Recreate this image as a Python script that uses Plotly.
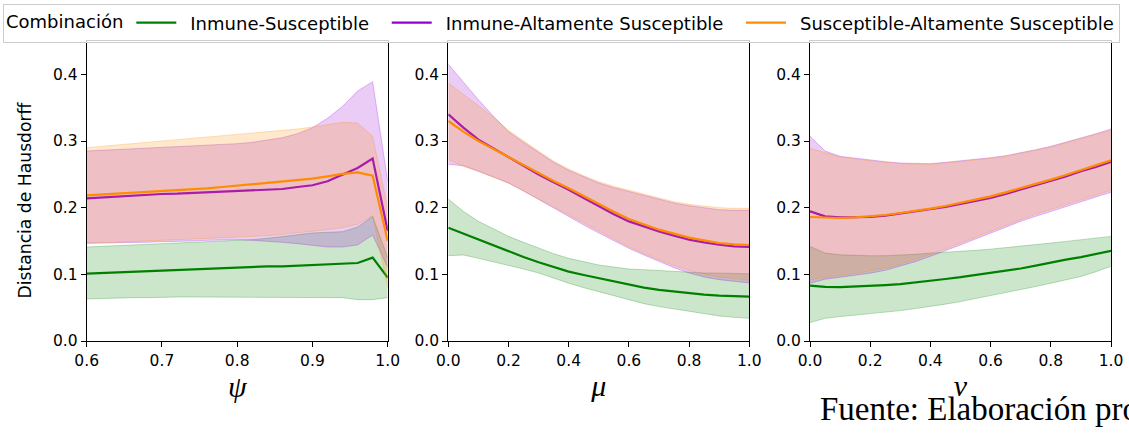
import plotly.graph_objects as go

W, H = 1129, 434

# ---------------- data ----------------
psi = [0.60, 0.62, 0.64, 0.66, 0.68, 0.70, 0.72, 0.74, 0.76, 0.78, 0.80,
       0.82, 0.84, 0.86, 0.88, 0.90, 0.92, 0.94, 0.96, 0.98, 1.00]
grid01 = [0.00, 0.05, 0.10, 0.15, 0.20, 0.25, 0.30, 0.35, 0.40, 0.45, 0.50,
          0.55, 0.60, 0.65, 0.70, 0.75, 0.80, 0.85, 0.90, 0.95, 1.00]

# Panel psi
psi_is_mean = [0.101, 0.102, 0.103, 0.103, 0.104, 0.105, 0.106, 0.107, 0.108, 0.109, 0.110,
               0.111, 0.112, 0.112, 0.113, 0.114, 0.114, 0.115, 0.117, 0.125, 0.095]
psi_is_up = [0.141, 0.142, 0.143, 0.144, 0.145, 0.146, 0.147, 0.148, 0.149, 0.150, 0.150,
             0.152, 0.154, 0.157, 0.160, 0.162, 0.163, 0.164, 0.171, 0.187, 0.125]
psi_is_lo = [0.063, 0.064, 0.064, 0.065, 0.065, 0.066, 0.066, 0.066, 0.066, 0.066, 0.066,
             0.066, 0.066, 0.066, 0.066, 0.066, 0.066, 0.065, 0.062, 0.062, 0.065]
psi_ia_mean = [0.214, 0.2155, 0.217, 0.218, 0.219, 0.2205, 0.221, 0.222, 0.2225, 0.2235, 0.2245,
               0.2255, 0.2265, 0.228, 0.231, 0.2336, 0.2396, 0.2496, 0.2596, 0.2737, 0.165]
psi_ia_up = [0.285, 0.286, 0.287, 0.288, 0.289, 0.290, 0.291, 0.292, 0.293, 0.294, 0.296,
             0.298, 0.301, 0.305, 0.311, 0.320, 0.334, 0.352, 0.375, 0.389, 0.240]
psi_ia_lo = [0.147, 0.147, 0.148, 0.148, 0.148, 0.149, 0.149, 0.150, 0.151, 0.152, 0.152,
             0.151, 0.150, 0.148, 0.146, 0.143, 0.141, 0.141, 0.144, 0.159, 0.110]
psi_sa_mean = [0.2185, 0.2197, 0.221, 0.2222, 0.2234, 0.2246, 0.2258, 0.2275, 0.229, 0.231, 0.233,
               0.235, 0.237, 0.239, 0.2415, 0.2436, 0.247, 0.2506, 0.253, 0.248, 0.150]
psi_sa_up = [0.290, 0.292, 0.294, 0.296, 0.298, 0.300, 0.302, 0.304, 0.306, 0.308, 0.310,
             0.312, 0.313, 0.315, 0.318, 0.321, 0.325, 0.328, 0.327, 0.307, 0.200]
psi_sa_lo = [0.146, 0.147, 0.148, 0.149, 0.150, 0.150, 0.151, 0.152, 0.153, 0.154, 0.155,
             0.157, 0.158, 0.160, 0.162, 0.165, 0.167, 0.170, 0.175, 0.188, 0.080]

# Panel mu
mu_is_mean = [0.170, 0.161, 0.152, 0.143, 0.134, 0.126, 0.118, 0.111, 0.104, 0.099, 0.094,
              0.089, 0.084, 0.080, 0.0767, 0.074, 0.0717, 0.0697, 0.068, 0.067, 0.0667]
mu_is_up = [0.213, 0.1945, 0.1795, 0.168, 0.157, 0.148, 0.139, 0.131, 0.124, 0.119, 0.114,
            0.111, 0.108, 0.107, 0.1058, 0.104, 0.103, 0.102, 0.1018, 0.101, 0.1008]
mu_is_lo = [0.128, 0.129, 0.124, 0.119, 0.114, 0.108, 0.102, 0.094, 0.0867, 0.080, 0.074,
            0.068, 0.0617, 0.056, 0.0516, 0.048, 0.0441, 0.0405, 0.0376, 0.0355, 0.034]
mu_ia_mean = [0.340, 0.320, 0.302, 0.289, 0.276, 0.263, 0.2496, 0.238, 0.227, 0.2145, 0.202,
              0.190, 0.1794, 0.1715, 0.1644, 0.158, 0.152, 0.148, 0.1444, 0.142, 0.141]
mu_ia_up = [0.415, 0.388, 0.362, 0.337, 0.314, 0.298, 0.283, 0.268, 0.256, 0.246, 0.237,
            0.230, 0.224, 0.218, 0.212, 0.207, 0.203, 0.200, 0.197, 0.196, 0.196]
mu_ia_lo = [0.265, 0.263, 0.255, 0.246, 0.237, 0.225, 0.212, 0.200, 0.187, 0.174, 0.162,
            0.150, 0.139, 0.129, 0.119, 0.110, 0.102, 0.096, 0.092, 0.089, 0.087]
mu_sa_mean = [0.330, 0.314, 0.300, 0.288, 0.2755, 0.263, 0.251, 0.240, 0.229, 0.217, 0.205,
              0.194, 0.183, 0.175, 0.167, 0.161, 0.155, 0.151, 0.147, 0.145, 0.144]
mu_sa_up = [0.387, 0.370, 0.353, 0.336, 0.316, 0.300, 0.285, 0.270, 0.258, 0.248, 0.239,
            0.232, 0.226, 0.220, 0.214, 0.209, 0.205, 0.202, 0.200, 0.199, 0.199]
mu_sa_lo = [0.272, 0.262, 0.254, 0.246, 0.237, 0.225, 0.213, 0.201, 0.189, 0.176, 0.164,
            0.152, 0.141, 0.131, 0.122, 0.113, 0.106, 0.100, 0.096, 0.093, 0.091]

# Panel nu
nu_is_mean = [0.0832, 0.0812, 0.0807, 0.0815, 0.0827, 0.0838, 0.0852, 0.0875, 0.0902, 0.093, 0.0957,
              0.0987, 0.1018, 0.105, 0.1088, 0.113, 0.1178, 0.122, 0.1258, 0.1305, 0.1353]
nu_is_up = [0.1419, 0.132, 0.1293, 0.1283, 0.1278, 0.128, 0.1288, 0.130, 0.1318, 0.133, 0.1343,
            0.136, 0.1378, 0.1398, 0.1419, 0.1443, 0.1469, 0.1494, 0.1519, 0.1544, 0.1569]
nu_is_lo = [0.0276, 0.034, 0.0366, 0.0386, 0.0406, 0.043, 0.0456, 0.0486, 0.0516, 0.0553, 0.0591,
            0.0634, 0.0677, 0.0722, 0.0767, 0.0817, 0.0867, 0.0917, 0.0967, 0.104, 0.112]
nu_ia_mean = [0.1945, 0.187, 0.1855, 0.1855, 0.186, 0.188, 0.191, 0.194, 0.197, 0.201, 0.2055,
              0.210, 0.2145, 0.2205, 0.227, 0.233, 0.2396, 0.247, 0.2546, 0.261, 0.2687]
nu_ia_up = [0.307, 0.285, 0.277, 0.274, 0.271, 0.269, 0.267, 0.266, 0.266, 0.268, 0.270,
            0.272, 0.275, 0.278, 0.282, 0.287, 0.292, 0.298, 0.305, 0.311, 0.318]
nu_ia_lo = [0.0867, 0.0927, 0.0957, 0.0985, 0.1018, 0.106, 0.112, 0.119, 0.127, 0.135, 0.144,
            0.153, 0.162, 0.171, 0.1795, 0.187, 0.1945, 0.202, 0.2095, 0.216, 0.223]
nu_sa_mean = [0.186, 0.185, 0.1845, 0.1855, 0.187, 0.189, 0.192, 0.195, 0.1985, 0.2025, 0.207,
              0.212, 0.217, 0.223, 0.229, 0.2355, 0.242, 0.249, 0.256, 0.2635, 0.271]
nu_sa_up = [0.289, 0.282, 0.276, 0.273, 0.270, 0.268, 0.266, 0.265, 0.265, 0.267, 0.269,
            0.271, 0.274, 0.277, 0.281, 0.286, 0.291, 0.297, 0.303, 0.309, 0.316]
nu_sa_lo = [0.0917, 0.0955, 0.0985, 0.1015, 0.105, 0.109, 0.115, 0.122, 0.130, 0.138, 0.147,
            0.156, 0.165, 0.174, 0.182, 0.190, 0.197, 0.204, 0.212, 0.219, 0.226]

series_names = ["Inmune-Susceptible", "Inmune-Altamente Susceptible",
                "Susceptible-Altamente Susceptible"]
series_colors = [(0, 128, 0), (148, 0, 211), (255, 140, 0)]

x_titles = ["ψ", "μ", "ν"]
x_ranges = [[0.6, 1.0], [0.0, 1.0], [0.0, 1.0]]
x_ticks = [[0.6, 0.7, 0.8, 0.9, 1.0], [0.0, 0.2, 0.4, 0.6, 0.8, 1.0], [0.0, 0.2, 0.4, 0.6, 0.8, 1.0]]
y_ticks = [0.0, 0.1, 0.2, 0.3, 0.4]

panels = [
    (psi, [(psi_is_mean, psi_is_lo, psi_is_up), (psi_ia_mean, psi_ia_lo, psi_ia_up),
           (psi_sa_mean, psi_sa_lo, psi_sa_up)]),
    (grid01, [(mu_is_mean, mu_is_lo, mu_is_up), (mu_ia_mean, mu_ia_lo, mu_ia_up),
              (mu_sa_mean, mu_sa_lo, mu_sa_up)]),
    (grid01, [(nu_is_mean, nu_is_lo, nu_is_up), (nu_ia_mean, nu_ia_lo, nu_ia_up),
              (nu_sa_mean, nu_sa_lo, nu_sa_up)]),
]

# ---------------- layout geometry (px) ----------------
x_dom_px = [(86.7, 387.7), (448.3, 749.3), (810.0, 1111.0)]
y_top_px, y_bot_px = 41.0, 341.0


def rgba(c, a):
    return "rgba(%d,%d,%d,%s)" % (c[0], c[1], c[2], a)


LEAD = "\u2002"           # gap between legend line and its text
TRAIL = "\u2002\u2009"    # extra gap before the next legend entry

fig = go.Figure()
for p, (xs, groups) in enumerate(panels):
    xa = "x" if p == 0 else "x%d" % (p + 1)
    ya = "y" if p == 0 else "y%d" % (p + 1)
    for s, (mean, lo, up) in enumerate(groups):
        c = series_colors[s]
        fig.add_trace(go.Scatter(x=xs, y=lo, mode="lines", xaxis=xa, yaxis=ya,
                                 line=dict(color=rgba(c, 0.25), width=1),
                                 showlegend=False, hoverinfo="skip",
                                 legendgroup=series_names[s]))
        fig.add_trace(go.Scatter(x=xs, y=up, mode="lines", xaxis=xa, yaxis=ya,
                                 fill="tonexty", fillcolor=rgba(c, 0.2),
                                 line=dict(color=rgba(c, 0.25), width=1),
                                 showlegend=False, hoverinfo="skip",
                                 legendgroup=series_names[s]))
        label = LEAD + series_names[s] + (TRAIL if s < 2 else "")
        fig.add_trace(go.Scatter(x=xs, y=mean, mode="lines", xaxis=xa, yaxis=ya,
                                 line=dict(color=rgba(c, 1), width=2.2),
                                 name=label, legendgroup=series_names[s],
                                 showlegend=(p == 0)))

tick_font = dict(family="DejaVu Sans", size=15.5, color="black")
layout = dict(
    width=W, height=H,
    margin=dict(l=0, r=0, t=0, b=0, autoexpand=False),
    paper_bgcolor="white", plot_bgcolor="white",
    showlegend=True,
    legend=dict(
        orientation="h", x=3 / W, y=1 - 3.5 / H, xanchor="left", yanchor="top",
        bgcolor="rgba(255,255,255,0.8)", bordercolor="#cccccc", borderwidth=1,
        font=dict(family="DejaVu Sans", size=18, color="black"),
        title=dict(text="Combinación", side="left",
                   font=dict(family="DejaVu Sans", size=18, color="black")),
        itemwidth=40, traceorder="normal",
    ),
)
for p in range(3):
    xk = "xaxis" if p == 0 else "xaxis%d" % (p + 1)
    yk = "yaxis" if p == 0 else "yaxis%d" % (p + 1)
    x0, x1 = x_dom_px[p]
    layout[xk] = dict(
        domain=[x0 / W, x1 / W], range=x_ranges[p], anchor="y" if p == 0 else "y%d" % (p + 1),
        tickvals=x_ticks[p], ticktext=["%.1f" % v for v in x_ticks[p]],
        ticks="outside", ticklen=5, tickwidth=1.1, tickcolor="black",
        showline=True, linecolor="black", linewidth=1.1, mirror=True,
        showgrid=False, zeroline=False, tickfont=tick_font, automargin=False,
        title=dict(text="<i>%s</i>" % x_titles[p], standoff=6,
                   font=dict(family="Liberation Serif", size=30, color="black")),
    )
    layout[yk] = dict(
        domain=[1 - y_bot_px / H, 1 - y_top_px / H], range=[0, 0.45],
        anchor="x" if p == 0 else "x%d" % (p + 1),
        tickvals=y_ticks, ticktext=["%.1f" % v for v in y_ticks],
        ticks="outside", ticklen=5, tickwidth=1.1, tickcolor="black",
        showline=True, linecolor="black", linewidth=1.1, mirror=True,
        showgrid=False, zeroline=False, tickfont=tick_font, automargin=False,
    )
fig.update_layout(**layout)

# y-axis label (placed where the reference shows it)
fig.add_annotation(text="Distancia de Hausdorff", xref="paper", yref="paper",
                   x=24.5 / W, y=1 - 200 / H, xanchor="center", yanchor="middle",
                   textangle=-90, showarrow=False,
                   font=dict(family="DejaVu Sans", size=17.2, color="black"))

fig.add_annotation(text="Fuente: Elaboración propia", xref="paper", yref="paper",
                   x=818 / W, y=1 - 408.5 / H, xanchor="left", yanchor="middle",
                   showarrow=False,
                   font=dict(family="Liberation Serif", size=33, color="black"))

fig.write_html("out.html")
